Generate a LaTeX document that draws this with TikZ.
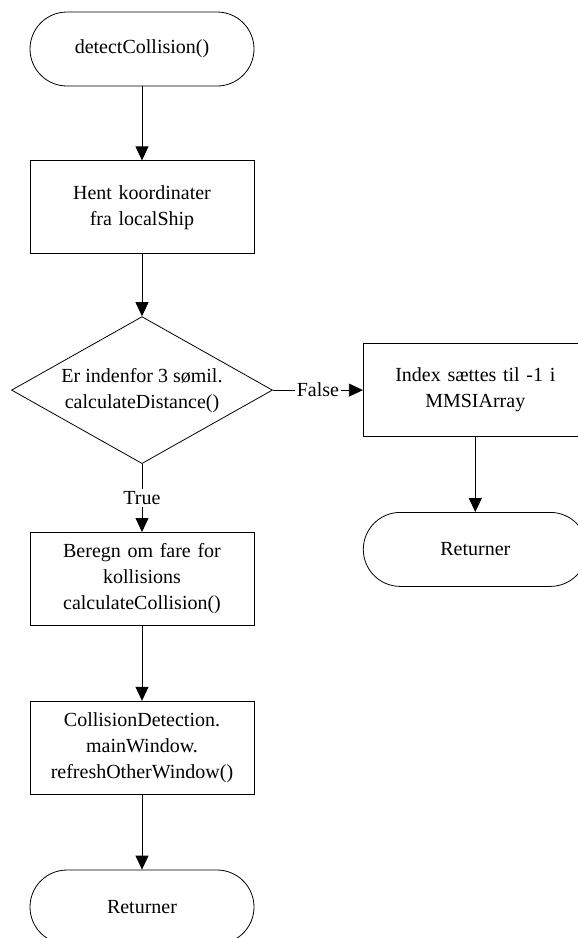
\documentclass[tikz,border=0pt]{standalone}
\usepackage{fontspec}
\setmainfont{Liberation Serif}
\usetikzlibrary{arrows.meta, shapes.geometric, positioning}
\tikzset{
  terminal/.style={
    rectangle, rounded corners=37pt, draw=black, line width=0.8pt,
    minimum width=224pt, minimum height=74pt,
    align=center, font=\fontsize{20}{26}\selectfont
  },
  process/.style={
    rectangle, draw=black, line width=0.8pt, inner sep=6pt,
    minimum width=224pt, minimum height=93pt, text width=210pt,
    align=center, font=\fontsize{20}{26}\selectfont
  },
  decision/.style={
    diamond, draw=black, line width=0.8pt, aspect=1.78, inner sep=1pt,
    minimum width=261pt, minimum height=147pt,
    align=center, font=\fontsize{20}{26}\selectfont
  },
  branch/.style={fill=white, inner sep=2pt, font=\fontsize{20}{26}\selectfont},
  arrow/.style={-{Triangle[width=13pt,length=14pt]}, line width=0.8pt, draw=black}
}

\begin{document}
\begin{tikzpicture}[node distance=75pt]
  \useasboundingbox (0,-938pt) rectangle (578pt,0);

  \node[terminal] (start) at (142pt,-49pt) {detectCollision()};
  \node[process, below=74pt of start] (hent) {Hent koordinater\\fra localShip};
  \node[decision, below=62pt of hent] (dist) {Er indenfor 3 sømil.\\calculateDistance()};
  \node[process, below=68pt of dist] (beregn) {Beregn om fare for\\kollisions\\calculateCollision()};
  \node[process, below=of beregn] (refresh) {CollisionDetection.\\mainWindow.\\refreshOtherWindow()};
  \node[terminal, below=of refresh] (slut) {Returner};

  % false branch
  \node[process, right=90pt of dist] (idx) {Index sættes til -1 i\\MMSIArray};
  \node[terminal, below=of idx] (slutfalse) {Returner};

  \draw[arrow] (start) -- (hent);
  \draw[arrow] (hent) -- (dist);
  \draw[arrow] (dist) -- node[branch] {True} (beregn);
  \draw[arrow] (dist) -- node[branch] {False} (idx);
  \draw[arrow] (beregn) -- (refresh);
  \draw[arrow] (refresh) -- (slut);
  \draw[arrow] (idx) -- (slutfalse);
\end{tikzpicture}
\end{document}
